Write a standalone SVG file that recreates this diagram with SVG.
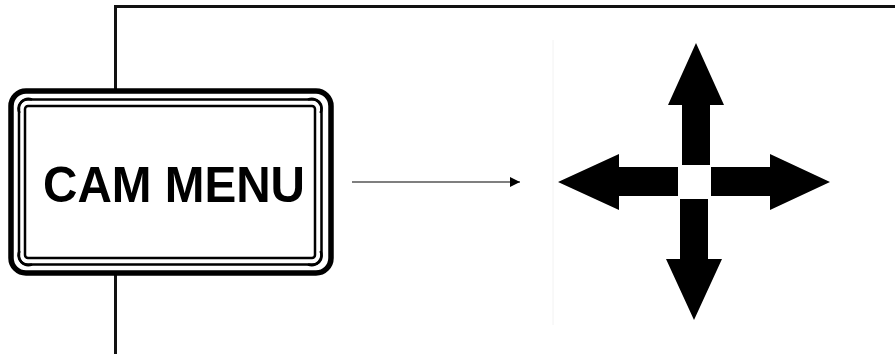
<svg xmlns="http://www.w3.org/2000/svg" width="895" height="354" viewBox="0 0 895 354">
  <style>
    .frame { fill: none; stroke: #111; stroke-width: 3; }
    .btn-outer { fill: #fff; stroke: #000; stroke-width: 5.5; }
    .btn-line { fill: none; stroke: #000; stroke-width: 2.5; }
    .lbl { font-family: "Liberation Sans", Arial, sans-serif; font-weight: bold; font-size: 50px; fill: #000; }
    .conn { stroke: #555; stroke-width: 1.6; fill: none; }
    .solid { fill: #000; }
  </style>
  <defs>
    <marker id="ah" viewBox="0 0 10 10" refX="10" refY="5" markerWidth="13" markerHeight="10" markerUnits="userSpaceOnUse" orient="auto">
      <path d="M0,0 L10,5 L0,10 z" fill="#000"/>
    </marker>
  </defs>
  <rect width="895" height="354" fill="#fff"/>
  <g id="frame">
    <path class="frame" d="M115.5,354 L115.5,6.5 L895,6.5"/>
    <line x1="553" y1="40" x2="553" y2="325" stroke="#f2f2f2" stroke-width="1"/>
  </g>
  <g id="cam-menu-button">
    <rect class="btn-outer" x="11" y="91" width="320" height="182" rx="15" ry="15"/>
    <rect class="btn-line" x="19" y="99.5" width="302.5" height="165" rx="8" ry="8"/>
    <rect class="btn-line" x="25" y="106" width="290" height="152" rx="3" ry="3"/>
    <path class="btn-line" d="M19.5,113 A10,10 0 0 1 32,99.5 M320.5,113 A10,10 0 0 0 308,99.5 M19.5,251 A10,10 0 0 0 32,264.5 M320.5,251 A10,10 0 0 1 308,264.5"/>
    <text class="lbl" x="174" y="201.5" text-anchor="middle" textLength="262" lengthAdjust="spacingAndGlyphs">CAM MENU</text>
  </g>
  <g id="connectors">
    <line class="conn" x1="352" y1="182" x2="520" y2="182" marker-end="url(#ah)"/>
  </g>
  <g id="direction-cross">
    <polygon class="solid" points="696,43 724,105 710,105 710,165 682,165 682,105 668,105"/>
    <polygon class="solid" points="694,320 722,259 708,259 708,199 680,199 680,259 666,259"/>
    <polygon class="solid" points="558,182 619,154 619,167 678,167 678,196 619,196 619,210"/>
    <polygon class="solid" points="830,182 770,154 770,167 711,167 711,196 770,196 770,210"/>
  </g>
</svg>
